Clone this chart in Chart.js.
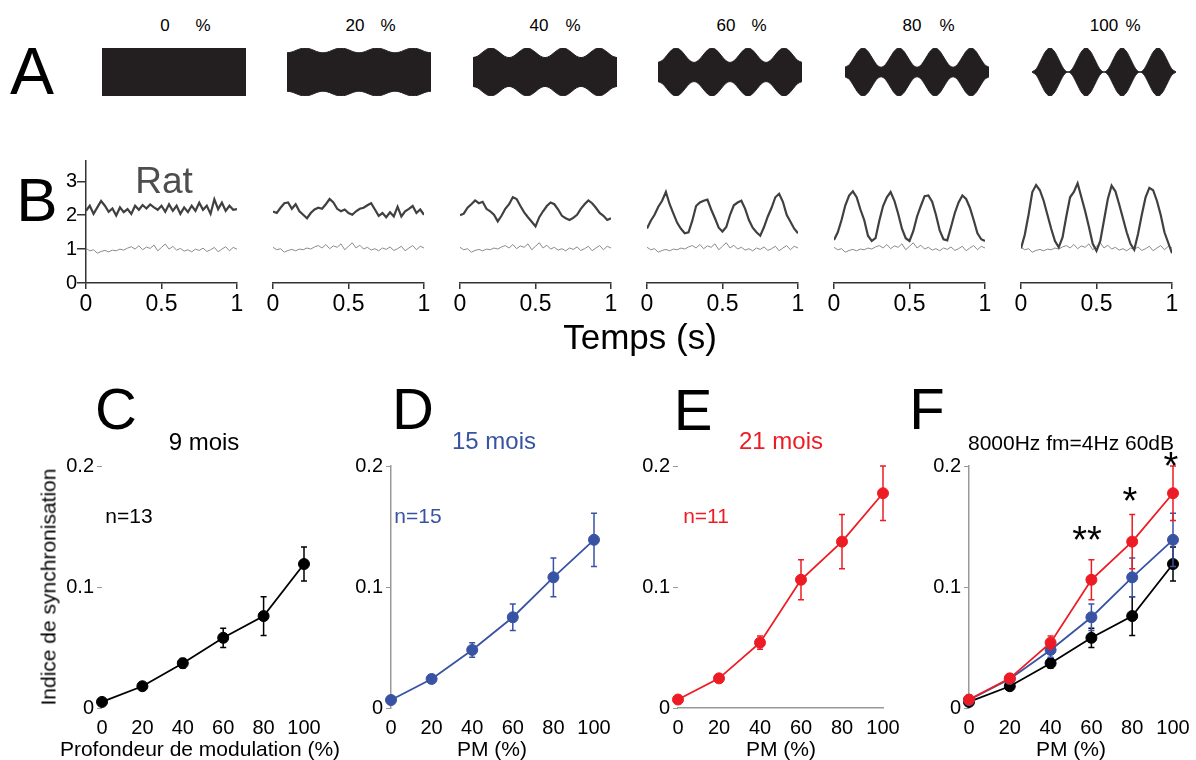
<!DOCTYPE html>
<html>
<head>
<meta charset="utf-8">
<script src="https://cdn.jsdelivr.net/npm/chart.js@4"></script>
<style>
    body { margin: 0; background: #fff; width: 1196px; height: 760px; position: relative; overflow: hidden;
           font-family: "Liberation Sans", Arial, Helvetica, sans-serif; }
    canvas { position: absolute; }
    .lbl { position: absolute; line-height: 1; white-space: nowrap; }
</style>
</head>
<body>
<script>
// ===== DATA =====

// Row A: stimulus envelopes (relative amplitude) for each modulation depth
const depthLabels = ['0', '20', '40', '60', '80', '100'];
const envTime = [0, 0.03125, 0.0625, 0.09375, 0.125, 0.15625, 0.1875, 0.21875,
                 0.25, 0.28125, 0.3125, 0.34375, 0.375, 0.40625, 0.4375, 0.46875,
                 0.5, 0.53125, 0.5625, 0.59375, 0.625, 0.65625, 0.6875, 0.71875,
                 0.75, 0.78125, 0.8125, 0.84375, 0.875, 0.90625, 0.9375, 0.96875, 1];
const env0   = [1, 1, 1, 1, 1, 1, 1, 1, 1, 1, 1, 1, 1, 1, 1, 1, 1,
                1, 1, 1, 1, 1, 1, 1, 1, 1, 1, 1, 1, 1, 1, 1, 1];
const env20  = [0.8, 0.829, 0.9, 0.971, 1, 0.971, 0.9, 0.829, 0.8, 0.829, 0.9, 0.971, 1, 0.971, 0.9, 0.829,
                0.8, 0.829, 0.9, 0.971, 1, 0.971, 0.9, 0.829, 0.8, 0.829, 0.9, 0.971, 1, 0.971, 0.9, 0.829, 0.8];
const env40  = [0.6, 0.659, 0.8, 0.941, 1, 0.941, 0.8, 0.659, 0.6, 0.659, 0.8, 0.941, 1, 0.941, 0.8, 0.659,
                0.6, 0.659, 0.8, 0.941, 1, 0.941, 0.8, 0.659, 0.6, 0.659, 0.8, 0.941, 1, 0.941, 0.8, 0.659, 0.6];
const env60  = [0.4, 0.488, 0.7, 0.912, 1, 0.912, 0.7, 0.488, 0.4, 0.488, 0.7, 0.912, 1, 0.912, 0.7, 0.488,
                0.4, 0.488, 0.7, 0.912, 1, 0.912, 0.7, 0.488, 0.4, 0.488, 0.7, 0.912, 1, 0.912, 0.7, 0.488, 0.4];
const env80  = [0.2, 0.317, 0.6, 0.883, 1, 0.883, 0.6, 0.317, 0.2, 0.317, 0.6, 0.883, 1, 0.883, 0.6, 0.317,
                0.2, 0.317, 0.6, 0.883, 1, 0.883, 0.6, 0.317, 0.2, 0.317, 0.6, 0.883, 1, 0.883, 0.6, 0.317, 0.2];
const env100 = [0, 0.146, 0.5, 0.854, 1, 0.854, 0.5, 0.146, 0, 0.146, 0.5, 0.854, 1, 0.854, 0.5, 0.146,
                0, 0.146, 0.5, 0.854, 1, 0.854, 0.5, 0.146, 0, 0.146, 0.5, 0.854, 1, 0.854, 0.5, 0.146, 0];

// Row B: response traces (rate) over 1 s
const traceTime = [0, 0.025, 0.05, 0.075, 0.1, 0.125, 0.15, 0.175, 0.2, 0.225, 0.25, 0.275, 0.3, 0.325,
                   0.35, 0.375, 0.4, 0.425, 0.45, 0.475, 0.5, 0.525, 0.55, 0.575, 0.6, 0.625, 0.65,
                   0.675, 0.7, 0.725, 0.75, 0.775, 0.8, 0.825, 0.85, 0.875, 0.9, 0.925, 0.95, 0.975, 1];
const trace0   = [2.13, 2.28, 2.04, 2.23, 2.42, 2.28, 2.10, 2.20, 1.99, 2.23, 2.09, 2.18, 2.04, 2.28,
                  2.16, 2.30, 2.20, 2.32, 2.23, 2.16, 2.28, 2.10, 2.32, 2.13, 2.28, 2.04, 2.23, 2.09,
                  2.28, 2.13, 2.37, 2.16, 2.28, 2.04, 2.47, 2.18, 2.37, 2.13, 2.28, 2.16, 2.18];
const trace20  = [2.04, 2.00, 2.15, 2.28, 2.30, 2.12, 2.25, 2.05, 1.95, 1.85, 2.00, 2.10, 2.15, 2.12,
                  2.25, 2.40, 2.30, 2.12, 2.05, 2.10, 2.00, 1.95, 2.05, 2.12, 2.15, 2.22, 2.28, 2.10,
                  1.92, 2.00, 1.88, 2.02, 1.90, 2.18, 1.90, 2.05, 2.12, 2.20, 2.00, 2.10, 1.95];
const trace40  = [1.94, 1.98, 2.15, 2.25, 2.36, 2.28, 2.32, 2.12, 2.05, 1.95, 1.76, 1.92, 2.12, 2.25,
                  2.45, 2.40, 2.20, 2.02, 1.88, 1.75, 1.62, 1.88, 2.05, 2.20, 2.30, 2.25, 2.10, 1.92,
                  1.85, 1.80, 1.86, 1.95, 2.12, 2.25, 2.36, 2.28, 2.15, 2.00, 1.92, 1.80, 1.85];
const trace60  = [1.56, 1.78, 1.95, 2.18, 2.35, 2.60, 2.25, 1.98, 1.72, 1.55, 1.42, 1.45, 1.78, 2.20,
                  2.30, 2.35, 2.38, 2.10, 1.85, 1.58, 1.47, 1.60, 1.95, 2.22, 2.30, 2.35, 2.12, 1.80,
                  1.58, 1.45, 1.35, 1.60, 1.90, 2.15, 2.45, 2.55, 2.32, 1.95, 1.75, 1.55, 1.42];
const trace80  = [1.23, 1.45, 1.80, 2.22, 2.50, 2.62, 2.45, 2.10, 1.80, 1.35, 1.20, 1.28, 1.78, 2.20,
                  2.45, 2.60, 2.35, 1.98, 1.55, 1.28, 1.20, 1.48, 1.90, 2.20, 2.48, 2.50, 2.32, 1.95,
                  1.50, 1.25, 1.22, 1.60, 2.00, 2.30, 2.50, 2.40, 2.15, 1.80, 1.42, 1.25, 1.20];
const trace100 = [0.99, 1.38, 1.95, 2.60, 2.80, 2.65, 2.35, 1.95, 1.55, 1.20, 1.02, 1.30, 1.90, 2.45,
                  2.60, 2.85, 2.45, 2.05, 1.60, 1.12, 0.92, 1.20, 1.80, 2.40, 2.78, 2.62, 2.25, 1.85,
                  1.45, 1.12, 0.95, 1.40, 1.95, 2.45, 2.72, 2.65, 2.35, 1.95, 1.45, 1.15, 0.85];
const baseline = [1.02, 0.95, 0.98, 0.88, 0.93, 0.96, 0.92, 0.97, 0.95, 1.00, 0.97, 1.03, 1.07, 1.00,
                  1.10, 0.98, 1.06, 1.02, 1.12, 0.95, 1.05, 1.15, 1.00, 1.08, 0.97, 1.02, 0.94, 0.98,
                  0.92, 1.00, 0.96, 1.03, 0.93, 0.98, 1.05, 0.92, 1.00, 1.07, 0.95, 1.05, 1.00];

// Rows C-F: synchronisation index vs modulation depth (mean +/- error)
const pmLevels = [0, 20, 40, 60, 80, 100];
const sync9  = [0.005, 0.018, 0.037, 0.058, 0.076, 0.119];
const err9   = [0.001, 0.001, 0.004, 0.008, 0.016, 0.014];
const sync15 = [0.0066, 0.024, 0.048, 0.075, 0.108, 0.139];
const err15  = [0.001, 0.001, 0.006, 0.011, 0.016, 0.022];
const sync21 = [0.007, 0.0245, 0.054, 0.106, 0.1375, 0.1775];
const err21  = [0.001, 0.001, 0.0055, 0.0165, 0.0225, 0.0225];

// ===== HELPERS =====

const FONT = '"Liberation Sans", Arial, Helvetica, sans-serif';
Chart.defaults.font.family = FONT;
const BLUE = '#3953a4';
const RED = '#ed1c24';

function addCanvas(left, top, w, h) {
    const c = document.createElement('canvas');
    c.width = w; c.height = h;
    c.style.left = left + 'px'; c.style.top = top + 'px';
    c.style.width = w + 'px'; c.style.height = h + 'px';
    document.body.appendChild(c);
    return c;
}

function addText(text, cx, cy, size, color = '#000', rotate = 0) {
    const d = document.createElement('div');
    d.className = 'lbl';
    d.textContent = text;
    d.style.left = cx + 'px';
    d.style.top = cy + 'px';
    d.style.fontSize = size + 'px';
    d.style.color = color;
    d.style.transform = 'translate(-50%,-50%)' + (rotate ? ` rotate(${rotate}deg)` : '');
    document.body.appendChild(d);
}

const baseOptions = () => ({
    responsive: false,
    animation: false,
    events: [],
    plugins: { legend: { display: false }, tooltip: { enabled: false } }
});

const pairs = (xs, ys) => xs.map((x, k) => ({ x, y: ys[k] }));

// error bars drawn through the chart scales
const errorBars = {
    id: 'errorBars',
    afterDatasetDraw(chart, args) {
        const ds = chart.data.datasets[args.index];
        if (!ds.errors) return;
        const { ctx, scales: { x, y } } = chart;
        ctx.save();
        ctx.strokeStyle = ds.borderColor;
        ctx.lineWidth = 1.5;
        ds.data.forEach((p, k) => {
            const e = ds.errors[k];
            const px = x.getPixelForValue(p.x);
            const y1 = y.getPixelForValue(p.y + e);
            const y2 = y.getPixelForValue(p.y - e);
            ctx.beginPath();
            ctx.moveTo(px, y1); ctx.lineTo(px, y2);
            ctx.moveTo(px - 3, y1); ctx.lineTo(px + 3, y1);
            ctx.moveTo(px - 3, y2); ctx.lineTo(px + 3, y2);
            ctx.stroke();
        });
        ctx.restore();
    }
};

// ===== ROW A : envelopes =====

const envelopes = [env0, env20, env40, env60, env80, env100];
const envLefts = [102, 287, 473, 658, 845, 1032];

envelopes.forEach((env, i) => {
    const c = addCanvas(envLefts[i], 48, 144, 48);
    const shape = {
        fill: 'origin', backgroundColor: '#231f20', borderColor: '#231f20', borderWidth: 1,
        pointRadius: 0, cubicInterpolationMode: 'monotone'
    };
    new Chart(c, {
        type: 'line',
        data: {
            datasets: [
                { ...shape, data: pairs(envTime, env) },
                { ...shape, data: pairs(envTime, env.map(v => -v)) }
            ]
        },
        options: {
            ...baseOptions(),
            layout: { padding: 0 },
            scales: {
                x: { type: 'linear', min: 0, max: 1, display: false },
                y: { min: -1, max: 1, display: false }
            }
        }
    });
});

const pctPos = [[165, 203], [355, 388], [539, 573], [726, 759], [912, 947], [1104, 1133]];
depthLabels.forEach((d, i) => {
    addText(d, pctPos[i][0], 25, 17);
    addText('%', pctPos[i][1], 25, 17);
});

// ===== ROW B : response traces =====

const traces = [trace0, trace20, trace40, trace60, trace80, trace100];
const bLefts = [86, 273, 460, 647, 834, 1021];

traces.forEach((tr, i) => {
    const first = i === 0;
    const yW = first ? 40 : 0;
    const padL = first ? 0 : 12;
    const c = addCanvas(bLefts[i] - yW - padL, 149, yW + padL + 151 + 14, 8 + 126 + 36);
    new Chart(c, {
        type: 'line',
        data: {
            datasets: [
                { data: pairs(traceTime, tr), borderColor: '#404040', borderWidth: 2.2, pointRadius: 0, tension: 0 },
                { data: pairs(traceTime, baseline), borderColor: '#8a8a8a', borderWidth: 1, pointRadius: 0, tension: 0 }
            ]
        },
        options: {
            ...baseOptions(),
            layout: { padding: { left: padL, right: 14, top: 8, bottom: 0 } },
            scales: {
                x: {
                    type: 'linear', min: 0, max: 1,
                    afterFit: s => { s.height = 36; },
                    ticks: { stepSize: 0.5, autoSkip: false, maxRotation: 0, padding: 2, color: '#000',
                             font: { size: 23 }, callback: v => String(v) },
                    grid: { drawOnChartArea: false, tickLength: 6, color: '#333', lineWidth: 1.5 },
                    border: { display: true, color: '#333', width: 1.5 }
                },
                y: {
                    display: first, min: 0, max: 3.6,
                    afterFit: s => { s.width = yW; },
                    afterBuildTicks: s => { s.ticks = s.ticks.filter(t => Number.isInteger(t.value)); },
                    ticks: { stepSize: 1, padding: 0, color: '#000', font: { size: 20 } },
                    grid: { drawOnChartArea: false, tickLength: 9, color: '#333', lineWidth: 1.5 },
                    border: { display: true, color: '#333', width: 1.5 }
                }
            }
        }
    });
});

// ===== ROWS C-F : synchronisation index =====

function pmChart(left, width, series, borders) {
    const top = 466, h = 242;
    const c = addCanvas(left - 48, top - 16, 48 + width + 24, 16 + h + 34);
    new Chart(c, {
        type: 'line',
        data: {
            datasets: series.map(s => ({
                data: pairs(pmLevels, s.values),
                errors: s.errors,
                borderColor: s.color, backgroundColor: s.color,
                borderWidth: 1.8, tension: 0, clip: false,
                pointRadius: 5.5, pointBorderWidth: 1,
                pointBackgroundColor: s.color, pointBorderColor: s.color
            }))
        },
        options: {
            ...baseOptions(),
            layout: { padding: { left: 0, right: 24, top: 16, bottom: 0 } },
            scales: {
                x: {
                    type: 'linear', min: 0, max: 100,
                    afterFit: s => { s.height = 34; },
                    ticks: { stepSize: 20, autoSkip: false, maxRotation: 0, padding: 0, color: '#000', font: { size: 20 } },
                    grid: { display: false },
                    border: { display: borders.x, color: '#999', width: 1.5 }
                },
                y: {
                    min: 0, max: 0.2,
                    afterFit: s => { s.width = 48; },
                    ticks: { stepSize: 0.1, padding: 3, color: '#000', font: { size: 20 },
                             callback: v => v === 0 ? '0' : v.toFixed(1) },
                    grid: { drawOnChartArea: false, tickLength: 5, color: '#999' },
                    border: { display: borders.y, color: '#999', width: 1.5 }
                }
            }
        },
        plugins: [errorBars]
    });
}

const s9  = { values: sync9,  errors: err9,  color: '#000' };
const s15 = { values: sync15, errors: err15, color: BLUE };
const s21 = { values: sync21, errors: err21, color: RED };

pmChart(102, 202, [s9],  { x: false, y: false });
pmChart(391, 203, [s15], { x: false, y: true });
pmChart(678, 205, [s21], { x: true,  y: false });
pmChart(969, 204, [s21, s15, s9], { x: false, y: true });

// ===== TEXT =====

addText('A', 32, 71, 66);
addText('B', 37, 200, 62);
addText('Rat', 164, 180, 37, '#4d4d4d');
addText('Temps (s)', 640, 336, 35);

addText('C', 116, 409, 58);
addText('D', 413, 409, 58);
addText('E', 693, 410, 58);
addText('F', 927, 409, 58);

addText('9 mois', 204, 442, 24);
addText('15 mois', 494, 441, 24, BLUE);
addText('21 mois', 781, 441, 24, RED);
addText('8000Hz fm=4Hz 60dB', 1071, 442, 21);

addText('n=13', 129, 515, 21);
addText('n=15', 418, 515, 21, BLUE);
addText('n=11', 706, 515, 21, RED);

addText('Indice de synchronisation', 48, 587, 21, '#000', -90);
addText('Profondeur de modulation (%)', 200, 748, 21);
addText('PM (%)', 492, 748, 21);
addText('PM (%)', 781, 748, 21);
addText('PM (%)', 1071, 748, 21);

// significance stars (glyph sits high in its line box)
addText('**', 1087, 532 + 8, 38);
addText('*', 1130, 493 + 8, 38);
addText('*', 1171, 458 + 8, 38);
</script>
</body>
</html>
